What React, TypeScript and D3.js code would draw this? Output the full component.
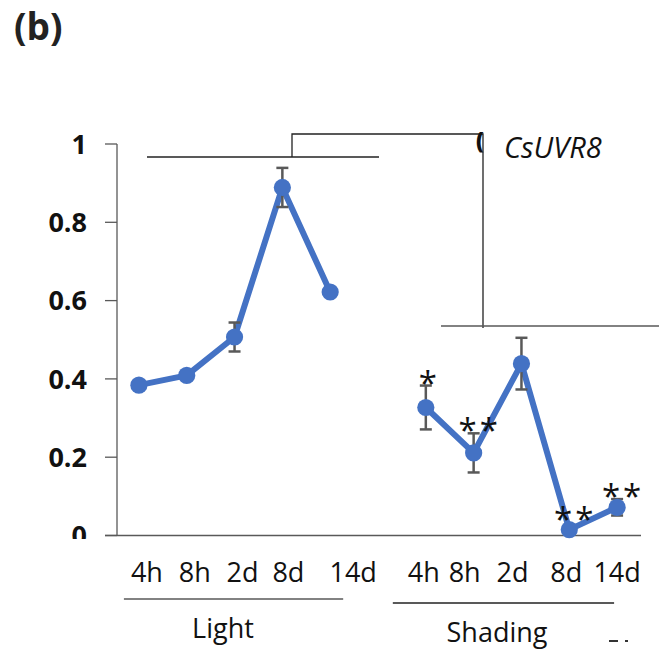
import React from 'react';
import * as d3 from 'd3';

// time points, same for both treatments
const categories = ['4h', '8h', '2d', '8d', '14d'];
const lightValues = [0.384, 0.409, 0.507, 0.889, 0.622];
const lightErrors = [0.006, 0.008, 0.037, 0.05, 0.006];
const shadingValues = [0.327, 0.211, 0.439, 0.015, 0.072];
const shadingErrors = [0.056, 0.05, 0.066, 0.006, 0.021];
const shadingMarks = ['*', '**', '', '**', '**'];
const yTicks = [0, 0.2, 0.4, 0.6, 0.8, 1];
const groupNames = ['Light', 'Shading'];
const geneName = 'CsUVR8';
const panelLabel = '(b)';

const W = 659;
const H = 650;
const blue = '#4472C4';
const grey = '#595959';
const font = '"Open Sans", "DejaVu Sans", sans-serif';

const lightKeys = categories.map(c => `L-${c}`);
const shadeKeys = categories.map(c => `S-${c}`);

const x = d3.scaleBand<string>()
  .domain([...lightKeys, 'gap', ...shadeKeys])
  .range([115, 641])
  .padding(0);
const y = d3.scaleLinear().domain([0, 1]).range([535.5, 144]);
const cx = (k: string) => (x(k) as number) + x.bandwidth() / 2;

// hand-placed text boxes in the original, nudged off the slot centres
const labelShift = [8, 8, 8, 6, 23, -2, -9, -9, -3, 0];

const line = d3.line<[number, number]>().x(d => d[0]).y(d => d[1]);

function Series({ keys, values, errors }: { keys: string[]; values: number[]; errors: number[] }) {
  const pts: [number, number][] = keys.map((k, i) => [cx(k), y(values[i])]);
  return (
    <g>
      <path d={line(pts) || ''} fill="none" stroke={blue} strokeWidth={6} strokeLinejoin="round" />
      {keys.map((k, i) => {
        const px = cx(k);
        const t = y(values[i] + errors[i]);
        const b = y(values[i] - errors[i]);
        return (
          <g key={'e' + k} stroke={grey} strokeWidth={2.5}>
            <line x1={px} x2={px} y1={t} y2={b} />
            <line x1={px - 6} x2={px + 6} y1={t} y2={t} />
            <line x1={px - 6} x2={px + 6} y1={b} y2={b} />
          </g>
        );
      })}
      {pts.map((p, i) => (
        <circle key={'m' + i} cx={p[0]} cy={p[1]} r={8.6} fill={blue} />
      ))}
    </g>
  );
}

export default function App() {
  const allKeys = [...lightKeys, ...shadeKeys];
  const allLabels = [...categories, ...categories];
  const xLeft = y.range()[0];

  return (
    <div style={{ position: 'absolute', left: 0, top: 0 }}>
      <svg width={W} height={H} style={{ display: 'block', background: '#fff' }}>
        <defs>
          <clipPath id="zeroClip">
            <rect x={0} y={0} width={100} height={539} />
          </clipPath>
        </defs>

        <text x={14} y={40} fontFamily={font} fontWeight="bold" fontSize={37} fill="#222">{panelLabel}</text>

        {/* y axis */}
        <line x1={117} x2={117} y1={y(1)} y2={y(0)} stroke={grey} strokeWidth={1.3} />
        {yTicks.map(t => (
          <g key={t}>
            <line x1={105} x2={117} y1={y(t)} y2={y(t)} stroke={grey} strokeWidth={1.3} />
            <text
              x={87}
              y={y(t)}
              dy="0.36em"
              textAnchor="end"
              fontFamily={font}
              fontWeight="bold"
              fontSize={27}
              fill="#111"
              clipPath={t === 0 ? 'url(#zeroClip)' : undefined}
            >
              {t === 0 ? '0' : d3.format('.1f')(t).replace(/\.0$/, '')}
            </text>
          </g>
        ))}
        {/* x axis */}
        <line x1={105} x2={641} y1={xLeft} y2={xLeft} stroke={grey} strokeWidth={1.3} />

        {/* bracket left over from the pasted figure */}
        <g stroke="#222" strokeWidth={1.3} fill="none">
          <line x1={147} x2={379} y1={157} y2={157} />
          <polyline points="292,157 292,134 483,134 483,328" />
          <line x1={441} x2={659} y1={326} y2={326} stroke={grey} />
        </g>
        <text x={476} y={148} fontFamily={font} fontWeight={900} fontSize={22} fill="#111">(</text>
        <text x={504} y={158} fontFamily={font} fontStyle="italic" fontSize={29} fill="#111">{geneName}</text>

        <Series keys={lightKeys} values={lightValues} errors={lightErrors} />
        <Series keys={shadeKeys} values={shadingValues} errors={shadingErrors} />

        {shadeKeys.map((k, i) => {
          if (!shadingMarks[i]) return null;
          const top = Math.min(y(shadingValues[i] + shadingErrors[i]), y(shadingValues[i]) - 8);
          return (
            <text
              key={'s' + k}
              x={cx(k) + (shadingMarks[i].length > 1 ? 6 : 2)}
              y={top - 9 + 18}
              textAnchor="middle"
              fontFamily={font}
              fontSize={33}
              letterSpacing={shadingMarks[i].length > 1 ? 3 : 0}
              fill="#111"
            >
              {shadingMarks[i]}
            </text>
          );
        })}

        {/* category labels */}
        {allKeys.map((k, i) => (
          <text key={'l' + k} x={cx(k) + labelShift[i]} y={582} textAnchor="middle" fontFamily={font} fontSize={27} fill="#111">
            {allLabels[i]}
          </text>
        ))}

        {/* group underlines and names */}
        <line x1={cx(lightKeys[0]) - 15} x2={cx(lightKeys[4]) + 13} y1={599} y2={599} stroke={grey} strokeWidth={1.5} />
        <line x1={cx(shadeKeys[0]) - 33} x2={cx(shadeKeys[4]) - 3} y1={603} y2={603} stroke="#222" strokeWidth={1.3} />
        <text x={223} y={638} textAnchor="middle" fontFamily={font} fontSize={27} fill="#111">{groupNames[0]}</text>
        <text x={497} y={642} textAnchor="middle" fontFamily={font} fontSize={27} fill="#111">{groupNames[1]}</text>

        <g stroke="#333" strokeWidth={2}>
          <line x1={609} x2={618} y1={641} y2={641} />
          <line x1={625} x2={628} y1={641} y2={641} />
        </g>
      </svg>
    </div>
  );
}
